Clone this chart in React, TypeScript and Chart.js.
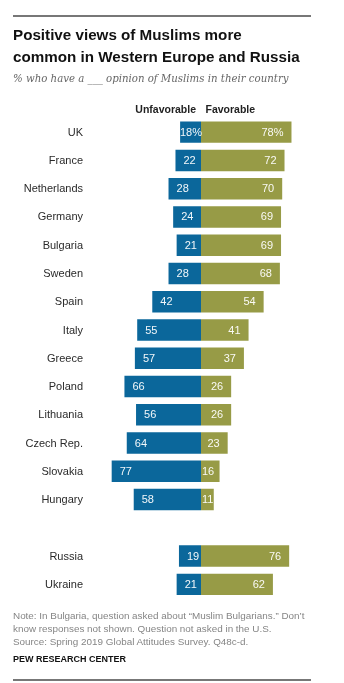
import React, { useEffect, useRef } from "react";
import { Chart, registerables } from "chart.js";

Chart.register(...registerables);

const countries = [
  "UK", "France", "Netherlands", "Germany", "Bulgaria", "Sweden", "Spain", "Italy",
  "Greece", "Poland", "Lithuania", "Czech Rep.", "Slovakia", "Hungary", "", "Russia", "Ukraine",
];
const unfavorable = [18, 22, 28, 24, 21, 28, 42, 55, 57, 66, 56, 64, 77, 58, null, 19, 21];
const favorable = [78, 72, 70, 69, 69, 68, 54, 41, 37, 26, 26, 23, 16, 11, null, 76, 62];

const BLUE = "#0b679b";
const GREEN = "#979b46";
const SANS = '"Liberation Sans", Arial, sans-serif';

const labelPlugin = {
  id: "labelPlugin",
  afterDatasetsDraw(chart: any) {
    const ctx = chart.ctx;
    const y = chart.scales.y;
    const x = chart.scales.x;
    const zero = x.getPixelForValue(0);
    ctx.save();
    ctx.font = `11px ${SANS}`;
    ctx.fillStyle = "#2a2a2a";
    ctx.textAlign = "right";
    ctx.textBaseline = "middle";
    countries.forEach((c, i) => {
      if (!c) return;
      ctx.fillText(c, 83, y.getPixelForValue(i) + 0.5);
    });
    ctx.font = `11px ${SANS}`;
    ctx.fillStyle = "rgba(255,255,255,0.95)";
    ctx.textAlign = "left";
    const m0 = chart.getDatasetMeta(0);
    const m1 = chart.getDatasetMeta(1);
    m0.data.forEach((el: any, i: number) => {
      const v = unfavorable[i];
      if (v == null) return;
      const t = i === 0 ? `${v}%` : `${v}`;
      const w = ctx.measureText(t).width;
      let start = Math.min(el.x, el.base) + 8;
      if (start + w > zero + 1) start = zero + 1 - w;
      ctx.fillText(t, start, el.y + 0.5);
    });
    m1.data.forEach((el: any, i: number) => {
      const v = favorable[i];
      if (v == null) return;
      const t = i === 0 ? `${v}%` : `${v}`;
      const w = ctx.measureText(t).width;
      let start = Math.max(el.x, el.base) - 8 - w;
      if (start < zero + 1) start = zero + 1;
      ctx.fillText(t, start, el.y + 0.5);
    });
    ctx.restore();
  },
};

export default function App() {
  const ref = useRef<HTMLCanvasElement>(null);
  useEffect(() => {
    if (!ref.current) return;
    const chart = new Chart(ref.current, {
      type: "bar",
      data: {
        labels: countries,
        datasets: [
          {
            label: "Unfavorable",
            data: unfavorable.map((v) => (v == null ? null : -v)),
            backgroundColor: BLUE,
            borderWidth: 0,
            barPercentage: 0.76,
            categoryPercentage: 1,
          },
          {
            label: "Favorable",
            data: favorable,
            backgroundColor: GREEN,
            borderWidth: 0,
            barPercentage: 0.76,
            categoryPercentage: 1,
          },
        ],
      },
      options: {
        indexAxis: "y",
        responsive: false,
        maintainAspectRatio: false,
        animation: false,
        layout: { padding: { left: 85, right: 27, top: 118, bottom: 84.5 } },
        scales: {
          x: { stacked: true, min: -100, max: 100, display: false },
          y: { stacked: true, display: false },
        },
        plugins: { legend: { display: false }, tooltip: { enabled: false }, title: { display: false } },
      },
      plugins: [labelPlugin],
    });
    return () => chart.destroy();
  }, []);

  const abs = (s: React.CSSProperties): React.CSSProperties => ({ position: "absolute", margin: 0, whiteSpace: "nowrap", ...s });

  return (
    <div style={{ position: "absolute", left: 0, top: 0, width: 344, height: 683, background: "#fff", overflow: "hidden" }}>
      <canvas ref={ref} width={344} height={683} style={{ position: "absolute", left: 0, top: 0, width: 344, height: 683 }} />
      <div style={abs({ left: 13, top: 14.5, width: 298, height: 2, background: "#777" })} />
      <div style={abs({ left: 13, top: 24, fontFamily: SANS, fontWeight: 700, fontSize: 15.2, lineHeight: "22px", color: "#111" })}>
        Positive views of Muslims more
        <br />
        common in Western Europe and Russia
      </div>
      <div style={abs({ left: 13, top: 72, fontFamily: '"DejaVu Serif", Georgia, serif', fontStyle: "italic", fontSize: 10.2, lineHeight: "14px", color: "#666" })}>
        % who have a ___ opinion of Muslims in their country
      </div>
      <div style={abs({ right: 148, top: 102.5, fontFamily: SANS, fontWeight: 700, fontSize: 10.5, lineHeight: "13px", color: "#222" })}>
        Unfavorable
      </div>
      <div style={abs({ left: 205.5, top: 102.5, fontFamily: SANS, fontWeight: 700, fontSize: 10.5, lineHeight: "13px", color: "#222" })}>
        Favorable
      </div>
      <div style={abs({ left: 13, top: 608.5, fontFamily: SANS, fontSize: 9.9, lineHeight: "13px", color: "#858585" })}>
        Note: In Bulgaria, question asked about “Muslim Bulgarians.” Don’t
        <br />
        know responses not shown. Question not asked in the U.S.
        <br />
        Source: Spring 2019 Global Attitudes Survey. Q48c-d.
      </div>
      <div style={abs({ left: 13, top: 653, fontFamily: SANS, fontWeight: 700, fontSize: 9, lineHeight: "12px", color: "#111" })}>
        PEW RESEARCH CENTER
      </div>
      <div style={abs({ left: 13, top: 679, width: 298, height: 2, background: "#777" })} />
    </div>
  );
}
